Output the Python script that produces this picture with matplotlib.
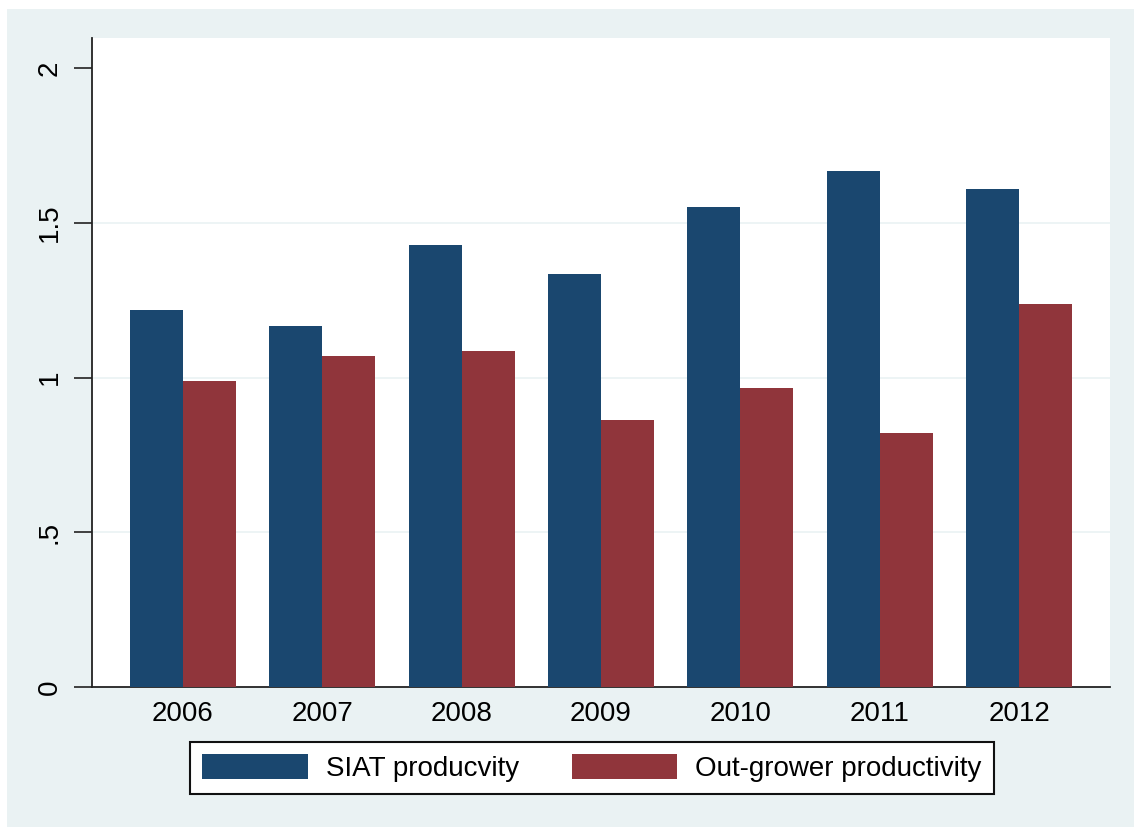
import matplotlib.pyplot as plt
import matplotlib.patches as mpatches
import numpy as np

plt.rcParams['font.family'] = ['Liberation Sans', 'DejaVu Sans']

years = ['2006', '2007', '2008', '2009', '2010', '2011', '2012']
siat = [1.218, 1.166, 1.428, 1.334, 1.551, 1.667, 1.609]
outgrower = [0.989, 1.069, 1.086, 0.863, 0.966, 0.821, 1.237]

navy = '#1a476f'
maroon = '#90353b'
bg = '#eaf2f3'

fig = plt.figure(figsize=(11.34, 8.27), dpi=100, facecolor='white')
# outer stata-style background, behind the axes
fig.patches.append(mpatches.Rectangle((7 / 1134, 0), 1 - 7 / 1134, 1 - 9 / 827,
                                      transform=fig.transFigure, facecolor=bg,
                                      edgecolor='none', zorder=-5))

ax = fig.add_axes([92 / 1134, 140 / 827, 1018 / 1134, 649 / 827])
ax.set_facecolor('white')

x = np.arange(len(years))
w = 0.38
ax.bar(x - w / 2, siat, width=w, color=navy, label='SIAT producvity', zorder=3)
ax.bar(x + w / 2, outgrower, width=w, color=maroon, label='Out-grower productivity', zorder=3)

ax.set_xlim(-0.65, 6.65)
ax.set_ylim(0, 2.097)

for g in [0.5, 1.0, 1.5]:
    ax.axhline(g, color=bg, linewidth=1.2, zorder=1)

ax.set_yticks([0, 0.5, 1, 1.5, 2])
ax.set_yticklabels(['0', '.5', '1', '1.5', '2'], rotation=90, va='center', fontsize=20)
ax.set_xticks(x)
ax.set_xticklabels(years, fontsize=20)
ax.tick_params(axis='x', length=0, pad=10)
ax.tick_params(axis='y', length=13, width=1.2, pad=8, color='#222222')

for s in ['top', 'right']:
    ax.spines[s].set_visible(False)
for s in ['left', 'bottom']:
    ax.spines[s].set_color('#222222')
    ax.spines[s].set_linewidth(1.3)

leg = fig.legend(loc='center', bbox_to_anchor=(592 / 1134, 59 / 827), ncol=2,
                 fontsize=20, handlelength=3.8, handleheight=1.0, handletextpad=0.65,
                 columnspacing=1.9, borderpad=0.45, fancybox=False, frameon=True,
                 framealpha=1)
leg.get_frame().set_edgecolor('#111111')
leg.get_frame().set_linewidth(1.5)
leg.get_frame().set_facecolor('white')

fig.savefig('out.png', dpi=100, facecolor=fig.get_facecolor())
